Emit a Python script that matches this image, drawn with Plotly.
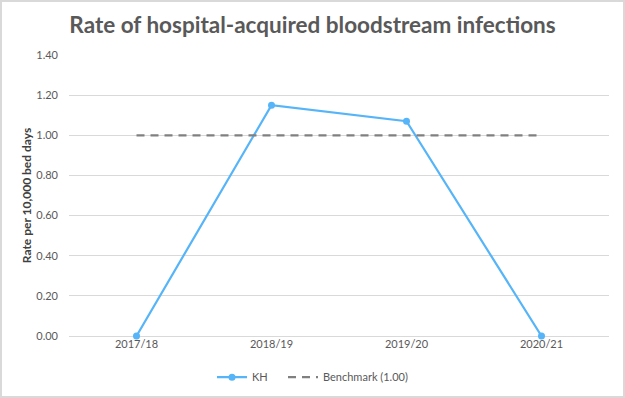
import plotly.graph_objects as go

categories = ["2017/18", "2018/19", "2019/20", "2020/21"]
kh_values = [0.0, 1.15, 1.07, 0.0]
benchmark_values = [1.0, 1.0, 1.0, 1.0]
y_ticks = [0.0, 0.2, 0.4, 0.6, 0.8, 1.0, 1.2, 1.4]

L, R, T, B = 69, 16, 55, 62
W, H = 625, 398
pw, ph = W - L - R, H - T - B

fig = go.Figure()
fig.add_trace(go.Scatter(
    x=categories, y=kh_values, name="KH", mode="lines+markers",
    line=dict(color="#56B4F8", width=2.2),
    marker=dict(size=7, color="#56B4F8"), cliponaxis=False, legend="legend",
))
fig.add_trace(go.Scatter(
    x=categories, y=benchmark_values, name="Benchmark (1.00)", mode="lines",
    line=dict(color="#808080", width=2.2, dash="8px,6px"), legend="legend2",
))

leg_common = dict(orientation="h", xanchor="left", y=-0.095, yanchor="top",
                  font=dict(size=11, color="#595959"), bgcolor="rgba(0,0,0,0)")

fig.update_layout(
    width=W, height=H,
    margin=dict(l=L, r=R, t=T, b=B, autoexpand=False),
    paper_bgcolor="white", plot_bgcolor="white",
    font=dict(family="Lato, Open Sans, sans-serif", color="#595959", size=11),
    title=dict(text="<b>Rate of hospital-acquired bloodstream infections</b>",
               x=0.5, xanchor="center", y=0.937, yanchor="middle",
               font=dict(size=22.5, color="#595959")),
    xaxis=dict(type="category", range=[-0.5, 3.5], showgrid=False, zeroline=False,
               showline=False, ticks="", automargin=False,
               tickfont=dict(size=11, color="#595959")),
    yaxis=dict(range=[0, 1.4], tickvals=y_ticks, tickformat=".2f",
               showgrid=True, gridcolor="#D9D9D9", gridwidth=1, zeroline=True,
               zerolinecolor="#D9D9D9", zerolinewidth=1, automargin=False,
               ticks="", ticklabelstandoff=10,
               title=dict(text="<b>Rate per 10,000 bed days</b>", font=dict(size=12, color="#404040"), standoff=2),
               tickfont=dict(size=11, color="#595959")),
    legend=dict(x=(212 - L) / pw, **leg_common),
    legend2=dict(x=(283 - L) / pw, **leg_common),
    showlegend=True,
    shapes=[dict(type="rect", xref="paper", yref="paper",
                 x0=-(L - 1) / pw, x1=1 + (R - 1) / pw, y0=-(B - 1) / ph, y1=1 + (T - 1) / ph,
                 line=dict(color="#D9D9D9", width=2))],
)

fig.write_html("out.html", config={"displayModeBar": False},
               post_script="document.body.style.margin='0';")
